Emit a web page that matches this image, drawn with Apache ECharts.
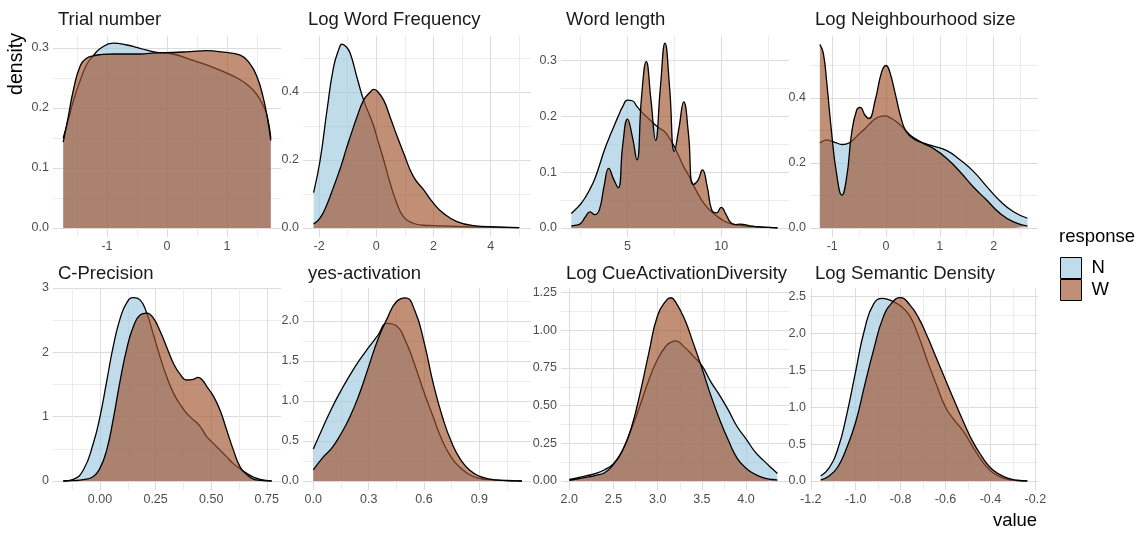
<!DOCTYPE html>
<html>
<head>
<meta charset="utf-8">
<script src="https://cdn.jsdelivr.net/npm/echarts@6/dist/echarts.min.js"></script>
<style>
html,body{margin:0;padding:0;background:#ffffff;}
#chart{width:1143px;height:533px;}
</style>
</head>
<body>
<div id="chart"></div>
<script>
// ---------------- DATA ----------------
const panelTitles = ['Trial number','Log Word Frequency','Word length','Log Neighbourhood size',
                     'C-Precision','yes-activation','Log CueActivationDiversity','Log Semantic Density'];
const seriesNames = ['N','W'];

// Trial number
const trialX = [-1.73,-1.65,-1.56,-1.45,-1.34,-1.23,-1.1,-0.9,-0.67,-0.45,-0.17,0.1,0.38,0.66,0.94,1.22,1.38,1.5,1.6,1.67,1.73];
const trialN = [0.150,0.178,0.212,0.245,0.272,0.287,0.300,0.308,0.305,0.2995,0.2925,0.290,0.281,0.272,0.2605,0.247,0.2355,0.222,0.205,0.186,0.150];
const trialW = [0.143,0.183,0.230,0.269,0.283,0.287,0.289,0.290,0.290,0.290,0.292,0.2925,0.294,0.2955,0.293,0.288,0.274,0.252,0.219,0.185,0.146];
const trialXTicks = ['-1','0','1'];
const trialYTicks = ['0.0','0.1','0.2','0.3'];

// Log Word Frequency
const freqX = [-2.19,-1.96,-1.72,-1.49,-1.3,-1.2,-1.05,-0.91,-0.68,-0.44,-0.21,-0.09,0.02,0.26,0.49,0.72,0.96,1.3,1.66,2.0,2.35,2.82,3.4,4.2,5.0];
const freqN = [0.104,0.200,0.347,0.474,0.527,0.541,0.533,0.514,0.445,0.376,0.327,0.300,0.268,0.200,0.131,0.073,0.032,0.014,0.008,0.007,0.006,0.005,0.003,0.002,0.001];
const freqW = [0.012,0.030,0.070,0.121,0.165,0.190,0.232,0.268,0.325,0.376,0.400,0.408,0.404,0.376,0.325,0.272,0.220,0.151,0.112,0.073,0.043,0.019,0.007,0.003,0.001];
const freqXTicks = ['-2','0','2','4'];
const freqYTicks = ['0.0','0.2','0.4'];

// Word length
const lengthX = [2,2.25,2.5,2.75,3,3.25,3.5,3.75,4,4.25,4.5,4.75,5,5.25,5.5,5.75,6,6.25,6.5,6.75,7,7.25,7.5,7.75,8,8.25,8.5,8.75,9,9.25,9.5,9.75,10,10.25,10.5,10.75,11,11.25,11.5,11.75,12,12.5,13];
const lengthN = [0.026,0.034,0.043,0.055,0.070,0.088,0.112,0.138,0.160,0.180,0.200,0.218,0.229,0.228,0.218,0.208,0.200,0.192,0.184,0.178,0.172,0.160,0.146,0.128,0.110,0.095,0.078,0.062,0.048,0.037,0.029,0.022,0.016,0.011,0.008,0.006,0.005,0.004,0.003,0.0025,0.002,0.001,0.0005];
const lengthW = [0.004,0.005,0.008,0.020,0.029,0.024,0.033,0.075,0.107,0.088,0.072,0.150,0.195,0.165,0.122,0.235,0.298,0.230,0.157,0.250,0.331,0.250,0.137,0.180,0.226,0.170,0.078,0.085,0.104,0.075,0.032,0.027,0.037,0.025,0.010,0.006,0.007,0.006,0.004,0.003,0.002,0.001,0.0005];
const lengthXTicks = ['5','10'];
const lengthYTicks = ['0.0','0.1','0.2','0.3'];

// Log Neighbourhood size
const neighX = [-1.23,-1.165,-1.1,-1.01,-0.92,-0.82,-0.73,-0.64,-0.545,-0.48,-0.39,-0.32,-0.2,-0.08,0.0,0.07,0.17,0.29,0.38,0.51,0.69,0.88,1.13,1.375,1.62,1.87,2.12,2.37,2.63];
const neighN = [0.262,0.268,0.271,0.267,0.262,0.257,0.259,0.267,0.282,0.292,0.306,0.318,0.336,0.344,0.345,0.340,0.330,0.313,0.297,0.278,0.262,0.252,0.238,0.210,0.175,0.128,0.083,0.050,0.030];
const neighW = [0.565,0.537,0.445,0.291,0.168,0.101,0.158,0.291,0.363,0.371,0.347,0.337,0.394,0.481,0.500,0.480,0.414,0.332,0.296,0.275,0.260,0.245,0.214,0.173,0.127,0.086,0.045,0.019,0.006];
const neighXTicks = ['-1','0','1','2'];
const neighYTicks = ['0.0','0.2','0.4'];

// C-Precision
const cprecX = [-0.165,-0.12,-0.075,-0.03,0.0,0.03,0.06,0.09,0.12,0.15,0.18,0.21,0.24,0.27,0.3,0.33,0.36,0.39,0.42,0.44,0.46,0.48,0.51,0.54,0.57,0.6,0.63,0.66,0.69,0.72,0.772];
const cprecN = [0.0,0.026,0.17,0.586,1.0,1.55,2.1,2.52,2.77,2.85,2.815,2.61,2.28,1.93,1.62,1.37,1.19,1.05,0.95,0.89,0.80,0.69,0.585,0.48,0.375,0.27,0.19,0.12,0.06,0.025,0.002];
const cprecW = [0.0,0.005,0.02,0.07,0.2,0.48,0.97,1.55,2.05,2.4,2.58,2.61,2.53,2.33,2.08,1.83,1.66,1.57,1.58,1.61,1.57,1.47,1.32,1.1,0.79,0.48,0.22,0.1,0.03,0.01,0.0];
const cprecXTicks = ['0.00','0.25','0.50','0.75'];
const cprecYTicks = ['0','1','2','3'];

// yes-activation
const yesX = [0,0.05,0.1,0.15,0.2,0.25,0.3,0.35,0.4,0.45,0.5,0.55,0.6,0.65,0.7,0.75,0.8,0.85,0.9,0.95,1.0,1.05,1.1,1.13];
const yesN = [0.40,0.66,0.91,1.13,1.33,1.51,1.67,1.82,1.97,1.94,1.75,1.45,1.11,0.80,0.50,0.29,0.16,0.075,0.033,0.018,0.010,0.005,0.002,0.0];
const yesW = [0.14,0.29,0.41,0.59,0.81,1.09,1.43,1.77,2.03,2.24,2.29,2.13,1.74,1.22,0.80,0.48,0.26,0.13,0.06,0.026,0.012,0.006,0.002,0.0];
const yesXTicks = ['0.0','0.3','0.6','0.9'];
const yesYTicks = ['0.0','0.5','1.0','1.5','2.0'];

// Log CueActivationDiversity
const cueX = [2.0,2.1,2.2,2.3,2.4,2.5,2.6,2.7,2.8,2.9,3.0,3.1,3.15,3.2,3.3,3.4,3.5,3.6,3.7,3.8,3.9,4.0,4.1,4.2,4.3,4.355];
const cueN = [0.010,0.022,0.035,0.050,0.075,0.115,0.200,0.340,0.500,0.670,0.810,0.900,0.920,0.930,0.890,0.830,0.765,0.660,0.570,0.470,0.360,0.280,0.195,0.135,0.080,0.050];
const cueW = [0.005,0.015,0.025,0.038,0.055,0.110,0.200,0.350,0.580,0.850,1.100,1.200,1.216,1.190,1.080,0.920,0.750,0.570,0.410,0.270,0.150,0.085,0.045,0.020,0.010,0.006];
const cueXTicks = ['2.0','2.5','3.0','3.5','4.0'];
const cueYTicks = ['0.00','0.25','0.50','0.75','1.00','1.25'];

// Log Semantic Density
const semX = [-1.156,-1.12,-1.08,-1.04,-1.0,-0.96,-0.92,-0.88,-0.84,-0.8,-0.76,-0.72,-0.68,-0.64,-0.6,-0.56,-0.52,-0.48,-0.44,-0.4,-0.36,-0.32,-0.28,-0.236];
const semN = [0.068,0.17,0.43,0.90,1.49,2.06,2.40,2.475,2.44,2.37,2.24,1.96,1.62,1.30,1.00,0.82,0.67,0.47,0.28,0.14,0.06,0.02,0.006,0.001];
const semW = [0.015,0.065,0.19,0.45,0.80,1.30,1.78,2.20,2.41,2.485,2.39,2.21,1.95,1.66,1.37,1.08,0.80,0.54,0.34,0.18,0.09,0.035,0.01,0.002];
const semXTicks = ['-1.2','-1.0','-0.8','-0.6','-0.4','-0.2'];
const semYTicks = ['0.0','0.5','1.0','1.5','2.0','2.5'];

const panelSeries = [
  [trialX, trialN, trialW, trialXTicks, trialYTicks],
  [freqX, freqN, freqW, freqXTicks, freqYTicks],
  [lengthX, lengthN, lengthW, lengthXTicks, lengthYTicks],
  [neighX, neighN, neighW, neighXTicks, neighYTicks],
  [cprecX, cprecN, cprecW, cprecXTicks, cprecYTicks],
  [yesX, yesN, yesW, yesXTicks, yesYTicks],
  [cueX, cueN, cueW, cueXTicks, cueYTicks],
  [semX, semN, semW, semXTicks, semYTicks]
];

// ---------------- LAYOUT / STYLE ----------------
const FONT = "'Liberation Sans', Arial, Helvetica, sans-serif";
const colLeft = [53, 303, 561, 810];
const panelW = 228;
const rowTop = [36, 288];
const rowH = [201, 202];
const xLimits = [[-1.9,1.9],[-2.56,5.41],[1.45,13.62],[-1.413,2.825],
                 [-0.2114,0.814],[-0.0559,1.18],[1.906,4.486],[-1.2035,-0.1884]];
const yLimits = [[-0.015,0.32],[-0.0265,0.5647],[-0.0161,0.344],[-0.0277,0.5908],
                 [-0.14,3.0],[-0.1125,2.4125],[-0.0597,1.2807],[-0.122,2.615]];
const MAJOR = '#DCDCDC', MINOR = '#ECECEC';
const fillN = '#9ECAE1', fillW = '#A0522D', fillAlpha = 0.65;

function gridLines(labels, lo, hi) {
  const majors = labels.map(Number);
  const half = (majors[1] - majors[0]) / 2;
  const vals = [], cols = [];
  const j0 = Math.ceil((lo - majors[0]) / half - 1e-9);
  const j1 = Math.floor((hi - majors[0]) / half + 1e-9);
  for (let j = j0; j <= j1; j++) {
    vals.push(+(majors[0] + j * half).toFixed(8));
    cols.push(Math.abs(j) % 2 === 0 ? MAJOR : MINOR);
  }
  return {majors, vals, cols};
}
function labelFmt(labels) {
  return function (v) {
    for (const s of labels) if (Math.abs(Number(s) - v) < 1e-7) return s;
    return '';
  };
}

const grids = [], xAxes = [], yAxes = [], series = [], graphics = [];
panelSeries.forEach((p, i) => {
  const [xs, ns, ws, xt, yt] = p;
  const row = i < 4 ? 0 : 1, col = i % 4;
  grids.push({left: colLeft[col], top: rowTop[row], width: panelW, height: rowH[row],
              containLabel: false, outerBoundsMode: 'none'});
  const gx = gridLines(xt, xLimits[i][0], xLimits[i][1]);
  const gy = gridLines(yt, yLimits[i][0], yLimits[i][1]);
  xAxes.push({
    type: 'value', gridIndex: i, min: xLimits[i][0], max: xLimits[i][1],
    axisLine: {show: false}, axisTick: {show: false, customValues: gx.vals},
    axisLabel: {customValues: gx.majors, formatter: labelFmt(xt), margin: 3,
                color: '#4D4D4D', fontSize: 12.5, fontFamily: FONT},
    splitLine: {show: true, lineStyle: {color: gx.cols, width: 1}},
    minorSplitLine: {show: false}
  });
  yAxes.push({
    type: 'value', gridIndex: i, min: yLimits[i][0], max: yLimits[i][1],
    axisLine: {show: false}, axisTick: {show: false, customValues: gy.vals},
    axisLabel: {customValues: gy.majors, formatter: labelFmt(yt), margin: 4,
                color: '#4D4D4D', fontSize: 12.5, fontFamily: FONT},
    splitLine: {show: true, lineStyle: {color: gy.cols, width: 1}},
    minorSplitLine: {show: false}
  });
  [[ns, fillN, 2, 'N'], [ws, fillW, 3, 'W']].forEach(([vals, fill, z, name]) => {
    series.push({
      name: name, type: 'line', xAxisIndex: i, yAxisIndex: i, z: z,
      data: xs.map((x, k) => [x, vals[k]]),
      smooth: 0.5, symbol: 'none', showSymbol: false, silent: true,
      lineStyle: {color: '#000000', width: 1.3},
      itemStyle: {color: fill},
      areaStyle: {color: fill, opacity: fillAlpha}
    });
  });
  graphics.push({type: 'text', x: colLeft[col] + 5, y: row === 0 ? 20 : 273.5,
    style: {text: panelTitles[i], fill: '#1A1A1A', font: '18.5px ' + FONT,
            textAlign: 'left', textVerticalAlign: 'middle'}});
});

graphics.push({type: 'text', x: 17, y: 64, rotation: Math.PI / 2,
  style: {text: 'density', fill: '#000', font: '19.5px ' + FONT, textAlign: 'center', textVerticalAlign: 'middle'}});
graphics.push({type: 'text', x: 1015, y: 521,
  style: {text: 'value', fill: '#000', font: '18.5px ' + FONT, textAlign: 'center', textVerticalAlign: 'middle'}});
graphics.push({type: 'text', x: 1059, y: 237,
  style: {text: 'response', fill: '#000', font: '18.5px ' + FONT, textAlign: 'left', textVerticalAlign: 'middle'}});

const chart = echarts.init(document.getElementById('chart'), null, {renderer: 'canvas'});
chart.setOption({
  animation: false,
  backgroundColor: '#ffffff',
  grid: grids, xAxis: xAxes, yAxis: yAxes, series: series,
  legend: {
    orient: 'vertical', left: 1060, top: 257, padding: 0,
    itemWidth: 21, itemHeight: 21, itemGap: 0, icon: 'rect', selectedMode: false,
    textStyle: {fontSize: 18.5, color: '#000', fontFamily: FONT, padding: [0, 0, 0, 5]},
    data: [
      {name: 'N', icon: 'rect', itemStyle: {color: '#BEDCEA', borderColor: '#000', borderWidth: 1}},
      {name: 'W', icon: 'rect', itemStyle: {color: '#C18E76', borderColor: '#000', borderWidth: 1}}
    ]
  },
  graphic: graphics
});
</script>
</body>
</html>
